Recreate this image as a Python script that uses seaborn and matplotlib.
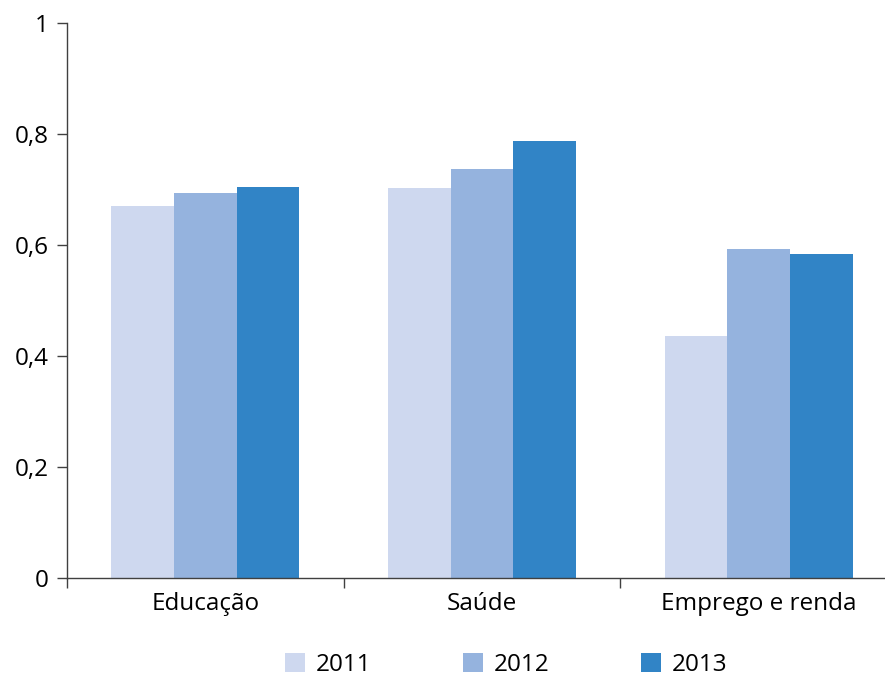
import matplotlib
matplotlib.use("Agg")
import matplotlib.pyplot as plt
import seaborn as sns
import pandas as pd
from matplotlib.ticker import FixedLocator

categories = ["Educação", "Saúde", "Emprego e renda"]
years = ["2011", "2012", "2013"]
v2011 = [0.670, 0.703, 0.436]
v2012 = [0.694, 0.737, 0.593]
v2013 = [0.705, 0.787, 0.584]
colors = ["#CED8EF", "#95B3DE", "#3184C6"]
yticks = [0, 0.2, 0.4, 0.6, 0.8, 1]
ytick_labels = ["0", "0,2", "0,4", "0,6", "0,8", "1"]

rows = []
for y, vals in zip(years, [v2011, v2012, v2013]):
    for c, v in zip(categories, vals):
        rows.append({"cat": c, "year": y, "val": v})
df = pd.DataFrame(rows)

sns.set_style("white")
plt.rcParams["font.family"] = ["Open Sans", "DejaVu Sans"]
plt.rcParams["text.color"] = "black"
plt.rcParams["xtick.color"] = "black"
plt.rcParams["ytick.color"] = "black"

fs = 17.5
axcol = "#404040"
fig = plt.figure(figsize=(8.85, 6.79), dpi=100)
ax = fig.add_axes([67/885, 101/679, 830/885, 555/679])
sns.barplot(data=df, x="cat", y="val", hue="year", palette=colors,
            width=0.68, gap=0, saturation=1, ax=ax, legend=True,
            linewidth=0, edgecolor="none")

ax.set_xlim(-0.5, 2.5)
ax.set_ylim(0, 1)
ax.set_yticks(yticks)
ax.set_yticklabels(ytick_labels)
ax.set_xlabel("")
ax.set_ylabel("")
for s in ["top", "right"]:
    ax.spines[s].set_visible(False)
for s in ["left", "bottom"]:
    ax.spines[s].set_color(axcol)
    ax.spines[s].set_linewidth(1.0)
ax.tick_params(axis="y", direction="out", length=7.2, width=1, color=axcol,
               labelsize=fs, pad=6, left=True, labelcolor="black")
ax.tick_params(axis="x", which="major", length=0, labelsize=fs, pad=10,
               labelcolor="black")
ax.xaxis.set_minor_locator(FixedLocator([-0.5, 0.5, 1.5, 2.5]))
ax.tick_params(axis="x", which="minor", direction="out", length=7.2, width=1,
               color=axcol, bottom=True)

handles, labels = ax.get_legend_handles_labels()
ax.get_legend().remove()
fig.legend(handles, labels, loc="center", bbox_to_anchor=(0.572, 0.021),
           ncol=3, frameon=False, fontsize=fs, handlelength=0.82,
           handleheight=0.82, handletextpad=0.45, columnspacing=3.75)

fig.savefig("out.png", dpi=100)
